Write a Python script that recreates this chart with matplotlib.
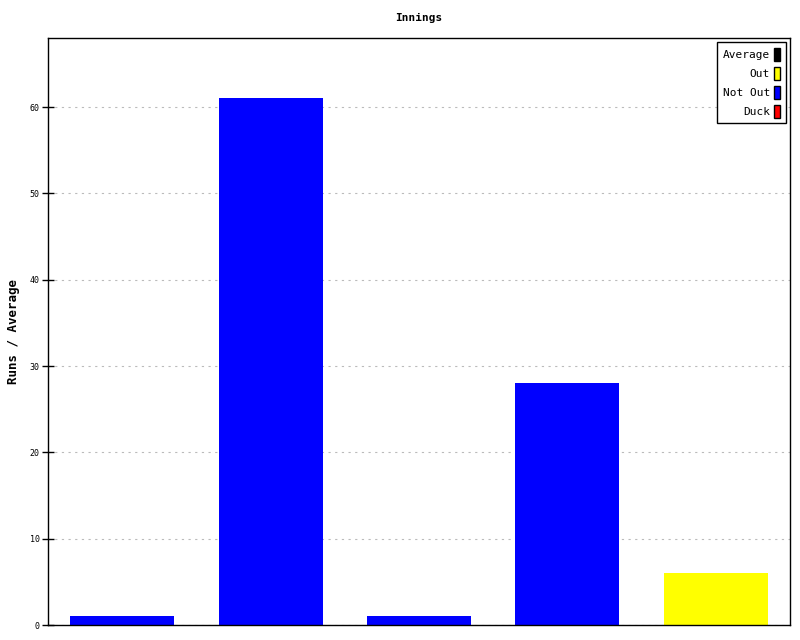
import matplotlib
matplotlib.use("Agg")
import matplotlib.pyplot as plt
from matplotlib.patches import Patch

# innings data
runs = [1, 61, 1, 28, 6]
status = ["Not Out", "Not Out", "Not Out", "Not Out", "Out"]
legend_labels = ["Average", "Out", "Not Out", "Duck"]
colours = {"Average": "black", "Out": "yellow", "Not Out": "blue", "Duck": "red"}
y_ticks = [0, 10, 20, 30, 40, 50, 60]

plt.rcParams['font.family'] = ['DejaVu Sans Mono']

fig = plt.figure(figsize=(8, 6.4), dpi=100)
ax = fig.add_axes([0.06, 0.0234, 0.9275, 0.9172])

x = range(len(runs))
ax.bar(x, runs, width=0.7, color=[colours[s] for s in status], zorder=2)

ax.set_xlim(-0.5, len(runs) - 0.5)
ax.set_ylim(0, 68)
ax.set_xticks([])
ax.set_yticks(y_ticks)
ax.tick_params(axis='y', direction='inout', length=8, width=1, labelsize=6, pad=2)
ax.yaxis.grid(True, linestyle=(0, (2, 4)), color='#bbbbbb', linewidth=0.8, zorder=0)
for s in ax.spines.values():
    s.set_linewidth(1)
    s.set_color('black')

ax.set_title("Innings", fontsize=8, fontweight='bold', pad=12)
ax.set_ylabel("Runs / Average", fontsize=9, fontweight='bold')
ax.yaxis.set_label_coords(-0.038, 0.5)

handles = [Patch(facecolor=colours[l], edgecolor='black', label=l) for l in legend_labels]
leg = ax.legend(handles=handles, loc='upper right', markerfirst=False, fontsize=8,
                handlelength=0.5, handleheight=1.4, handletextpad=0.4,
                labelspacing=0.55, borderpad=0.5, fancybox=False, framealpha=1,
                edgecolor='black', borderaxespad=0.4)

fig.savefig("out.png", dpi=100)
